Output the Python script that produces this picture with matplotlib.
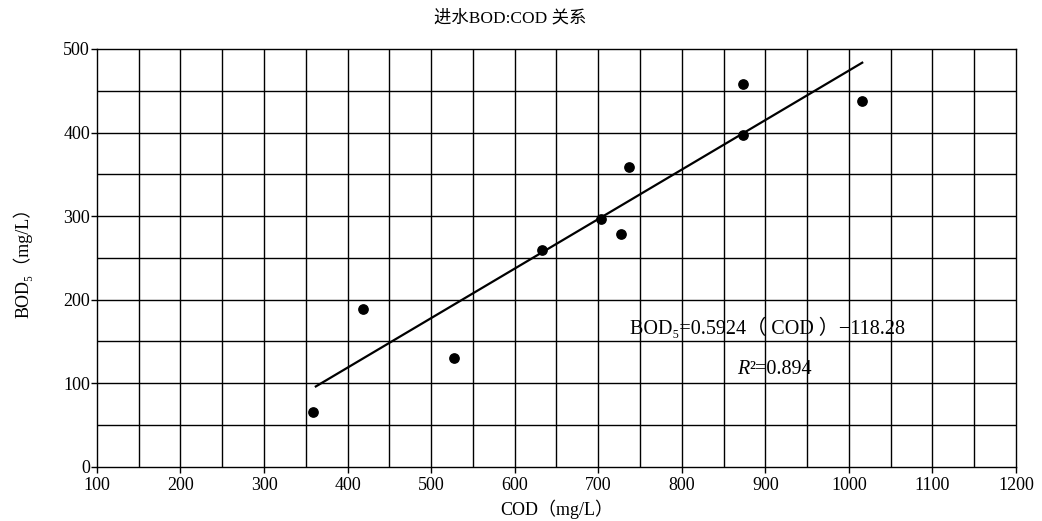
import numpy as np
import matplotlib
matplotlib.use("Agg")
import matplotlib.pyplot as plt

plt.rcParams['font.family'] = ['Liberation Serif', 'Noto Sans CJK SC', 'DejaVu Serif']

# influent COD vs BOD5 (mg/L)
cod = [359, 419, 528, 633, 703, 727, 737, 873, 873, 1016]
bod = [65, 189, 130, 260, 296, 278, 359, 397, 458, 438]

slope = 0.5924
intercept = -118.28
r2 = 0.894

fig = plt.figure(figsize=(10.42, 5.21), dpi=100)
ax = fig.add_axes([0.093, 0.104, 0.882, 0.802])

# grid every 50 in both directions
for gx in np.arange(150, 1200, 50):
    ax.axvline(gx, color='black', lw=1.0, zorder=1)
for gy in np.arange(50, 500, 50):
    ax.axhline(gy, color='black', lw=1.0, zorder=1)

ax.scatter(cod, bod, s=45, color='black', zorder=3)

x_fit = np.array([min(cod) + 3, max(cod)])
ax.plot(x_fit, slope * x_fit + intercept, color='black', lw=1.6, zorder=2)

ax.set_xlim(100, 1200)
ax.set_ylim(0, 500)
ax.set_xticks(np.arange(100, 1201, 100))
ax.set_yticks(np.arange(0, 501, 100))
ax.tick_params(axis='both', labelsize=13, length=4, width=1.0, direction='out', pad=1)
ax.tick_params(axis='x', pad=3)
for s in ax.spines.values():
    s.set_linewidth(1.0)

fig.text(510 / 1042, 1 - 18 / 521, '进水BOD:COD 关系', fontsize=12.5, ha='center', va='center')
ax.set_xlabel('COD（mg/L）', fontsize=13, labelpad=4)
ax.set_ylabel('BOD₅（mg/L）', fontsize=13, labelpad=22)

ax.text(738, 166, 'BOD₅=0.5924（ COD ）−118.28', fontsize=14.5,
        va='center', ha='left', zorder=4)
ax.text(881, 117, 'R', fontsize=14.5, style='italic', va='center', ha='right', zorder=4)
ax.text(881, 117, '²=%.3f' % r2, fontsize=14.5, va='center', ha='left', zorder=4)

fig.savefig('out.png', dpi=100, facecolor='white')
